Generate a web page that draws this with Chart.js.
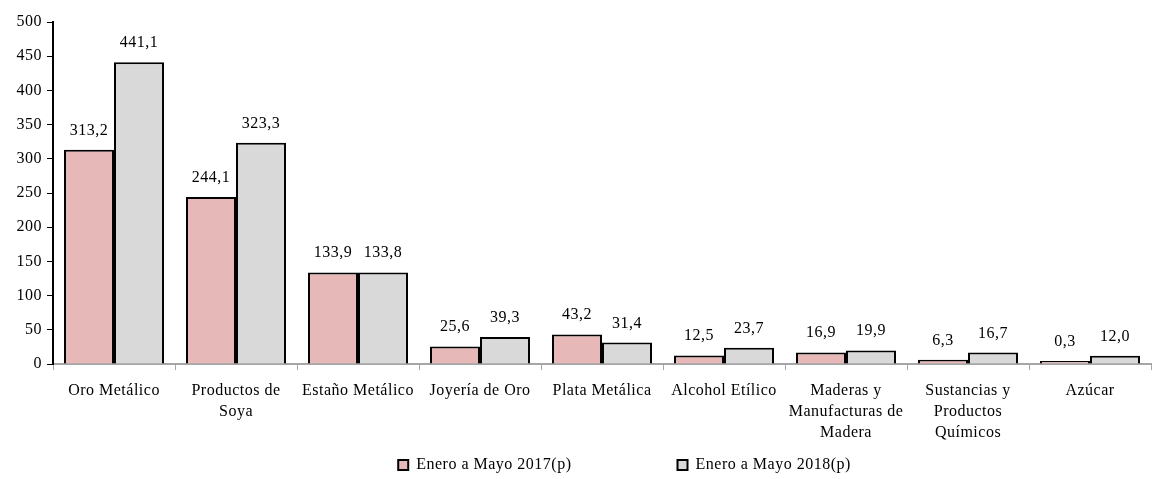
<!DOCTYPE html>
<html>
<head>
<meta charset="utf-8">
<script src="https://cdn.jsdelivr.net/npm/chart.js@4/dist/chart.umd.min.js"></script>
<style>
  html, body { margin: 0; padding: 0; background: #fff; }
  #wrap { width: 1157px; height: 479px; }
</style>
</head>
<body>
<div id="wrap"><canvas id="myChart" width="1157" height="479"></canvas></div>
<script>
const categorias = [
  'Oro Metálico',
  ['Productos de', 'Soya'],
  'Estaño Metálico',
  'Joyería de Oro',
  'Plata Metálica',
  'Alcohol Etílico',
  ['Maderas y', 'Manufacturas de', 'Madera'],
  ['Sustancias y', 'Productos', 'Químicos'],
  'Azúcar'
];
const valores2017 = [313.2, 244.1, 133.9, 25.6, 43.2, 12.5, 16.9, 6.3, 0.3];
const valores2018 = [441.1, 323.3, 133.8, 39.3, 31.4, 23.7, 19.9, 16.7, 12.0];
const serie2017 = 'Enero a Mayo 2017(p)';
const serie2018 = 'Enero a Mayo 2018(p)';

const fuente = "'Liberation Serif', 'DejaVu Serif', serif";
const separacionLeyenda = 106;

// espaciado entre letras (se pierde cada vez que se redimensiona el canvas)
const espaciado = {
  id: 'espaciado',
  beforeUpdate(chart) { chart.ctx.letterSpacing = '0.5px'; },
  beforeDraw(chart) { chart.ctx.letterSpacing = '0.5px'; }
};

// leyenda con mucha separacion horizontal pero poca altura
const leyendaCompacta = {
  id: 'leyendaCompacta',
  afterInit(chart) {
    const leg = chart.legend;
    const fit0 = leg.fit;
    leg.fit = function () { fit0.call(this); this.height = 32; };
    const draw0 = leg.draw;
    leg.draw = function () {
      const t = this.top, l = this.left, r = this.right;
      this.top = t - separacionLeyenda + 10;
      this.left = l + 49; this.right = r + 49;
      draw0.call(this);
      this.top = t; this.left = l; this.right = r;
    };
  }
};

// etiquetas encima de cada barra
const etiquetas = {
  id: 'etiquetas',
  afterDatasetsDraw(chart) {
    const c = chart.ctx;
    c.save();
    c.font = '16px ' + fuente;
    c.fillStyle = '#000';
    c.textAlign = 'center';
    c.textBaseline = 'alphabetic';
    chart.data.datasets.forEach((ds, i) => {
      chart.getDatasetMeta(i).data.forEach((bar, j) => {
        const txt = ds.data[j].toFixed(1).replace('.', ',');
        c.fillText(txt, bar.x, bar.y - 15);
      });
    });
    c.restore();
  }
};

const ctx = document.getElementById('myChart').getContext('2d');
const myChart = new Chart(ctx, {
  type: 'bar',
  data: {
    labels: categorias,
    datasets: [{
        label: serie2017,
        data: valores2017,
        backgroundColor: '#E6B9B8',
        borderColor: '#000',
        borderWidth: 2,
        borderSkipped: 'bottom',
        minBarLength: 3
      }, {
        label: serie2018,
        data: valores2018,
        backgroundColor: '#D9D9D9',
        borderColor: '#000',
        borderWidth: 2,
        borderSkipped: 'bottom',
        minBarLength: 3
      }
    ]
  },
  options: {
    responsive: false,
    animation: false,
    layout: { padding: { left: 0, right: 6, top: 22, bottom: 0 } },
    datasets: { bar: { categoryPercentage: 0.82, barPercentage: 1 } },
    plugins: {
      tooltip: { enabled: false },
      legend: {
        position: 'bottom',
        labels: {
          font: { family: fuente, size: 16 },
          color: '#000',
          boxWidth: 10,
          boxHeight: 10,
          padding: separacionLeyenda,
          generateLabels(chart) {
            return chart.data.datasets.map((ds, i) => ({
              text: ds.label,
              fillStyle: ds.backgroundColor,
              strokeStyle: '#000',
              lineWidth: 2,
              datasetIndex: i
            }));
          }
        }
      }
    },
    scales: {
      x: {
        border: { color: '#A6A6A6', width: 2 },
        grid: { display: true, drawOnChartArea: false, color: '#A6A6A6', tickLength: 6, offset: true },
        ticks: { font: { family: fuente, size: 16, lineHeight: 1.32 }, color: '#000', maxRotation: 0, autoSkip: false, padding: 10 },
        afterFit(scale) { scale.height = 83; }
      },
      y: {
        min: 0,
        max: 500,
        border: { color: '#000', width: 2 },
        grid: { display: true, drawOnChartArea: false, color: '#000', tickLength: 6 },
        ticks: { stepSize: 50, font: { family: fuente, size: 16 }, color: '#000', padding: 5 },
        afterFit(scale) { scale.width = 53; }
      }
    }
  },
  plugins: [espaciado, leyendaCompacta, etiquetas]
});
</script>
</body>
</html>
